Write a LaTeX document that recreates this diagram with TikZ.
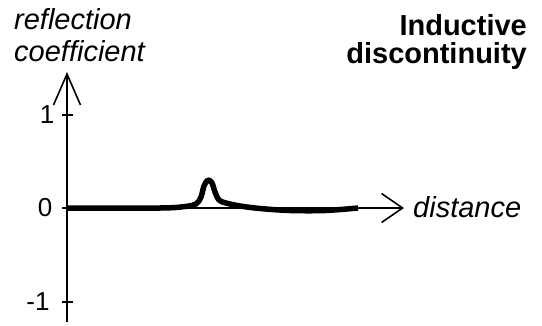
\documentclass[tikz,border=0pt]{standalone}
\usepackage{fontspec}
\setmainfont{Liberation Sans}
\usepackage{tikz}
\usetikzlibrary{arrows.meta,positioning}
\tikzset{
  %Define arrow tips of the two axes
  vbarb/.style={-{Straight Barb[length=31pt,width=27pt,line width=1.6pt]}},
  hbarb/.style={-{Straight Barb[length=21pt,width=29pt,line width=1.6pt]}},
  %Define style for axes and ticks
  achse/.style={line width=1.6pt},
  % Define style for the reflection curve
  kurve/.style={line width=5.5pt,line cap=butt,line join=round},
  %Define style for labels
  beschr/.style={inner sep=0pt,font=\fontsize{29}{32}\selectfont\itshape},
  zahl/.style={inner sep=0pt,font=\fontsize{26}{30}\selectfont}
}

\begin{document}
\begin{tikzpicture}[x=1pt,y=-1pt]
  \useasboundingbox (0,0) rectangle (542,325);
  \coordinate (ursprung) at (67,208);
  \coordinate (yoben) at (67,72);
  \coordinate (yunten) at (67,322);
  \coordinate (xrechts) at (404,208);
  \draw[achse,vbarb] (yunten) -- (yoben);
  \draw[achse,hbarb] (ursprung) -- (xrechts);
  % ticks
  \draw[achse] (62,115) coordinate (teins) -- (73,115);
  \draw[achse] (62,302) coordinate (tmeins) -- (73,302);
  \draw[achse] (62,208) coordinate (tnull) -- (ursprung);
  \node[zahl] (eins) at (47,115) {1};
  \node[zahl] (null) at (45,208) {0};
  \node[zahl] (meins) at (38,302) {-1};
  % curve
  \draw[kurve] plot[smooth,tension=0.55] coordinates {
    (67,208) (160,208) (185,206.5) (196,204) (201,197) (204,186) (208,180)
    (212,183) (215,192) (219,200) (226,203) (240,206) (260,208.5)
    (290,210.5) (325,210.5) (358,208)};
  \node[beschr,anchor=north west,align=left] (ylabel) at (14,8)
    {reflection\\coefficient};
  \node[beschr,anchor=base west] (xlabel) at (413,217) {distance};
  \node[inner sep=0pt,anchor=north east,align=right,
        font=\fontsize{29}{28}\selectfont\bfseries] (titel) at (527,14)
    {Inductive\\discontinuity};
\end{tikzpicture}
\end{document}
